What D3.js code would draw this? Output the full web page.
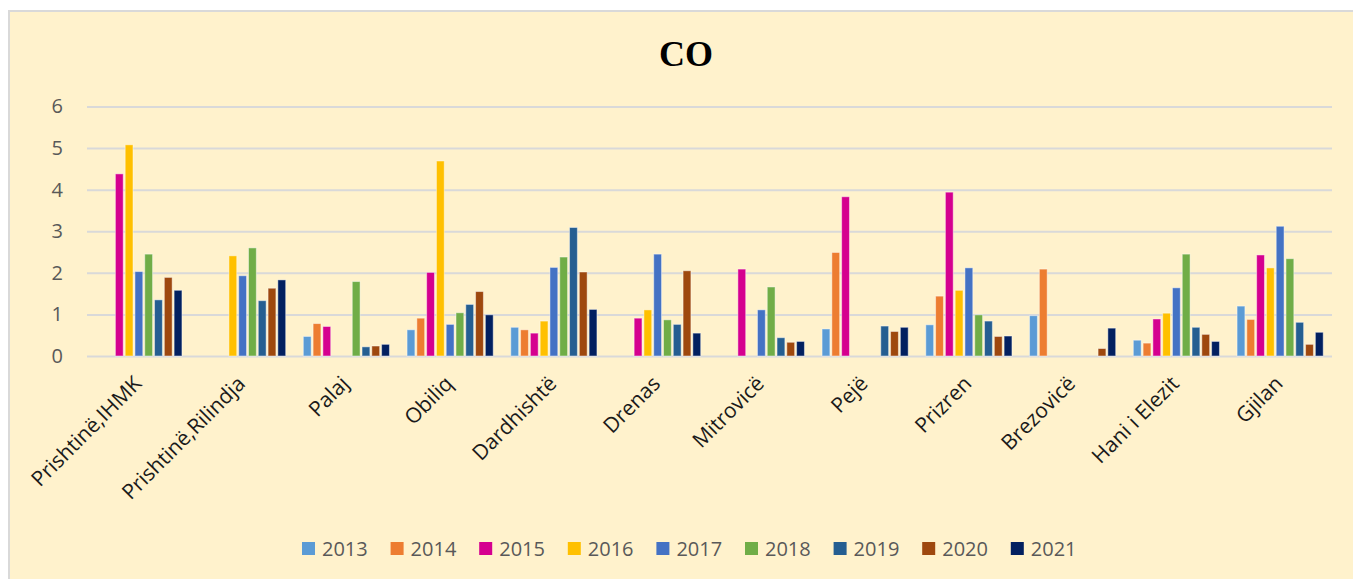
<!DOCTYPE html>
<html>
<head>
<meta charset="utf-8">
<script src="https://cdn.jsdelivr.net/npm/d3@7"></script>
<style>
  body { margin: 0; background: #fff; }
  svg { display: block; }
</style>
</head>
<body>
<svg id="canvas" width="1353" height="579"></svg>
<script>
// stations on the x axis
let stations = ["Prishtinë,IHMK", "Prishtinë,Rilindja", "Palaj", "Obiliq", "Dardhishtë", "Drenas",
  "Mitrovicë", "Pejë", "Prizren", "Brezovicë", "Hani i Elezit", "Gjilan"]
let years = ["2013", "2014", "2015", "2016", "2017", "2018", "2019", "2020", "2021"]
let yearColors = ["#5B9BD5", "#ED7D31", "#D5008F", "#FFC000", "#4472C4", "#70AD47", "#255E91", "#9E480E", "#022060"]
let yTicks = [0, 1, 2, 3, 4, 5, 6]

// one array per year, one value per station (null = no bar)
let v2013 = [null, null, 0.47, 0.63, 0.69, null, null, 0.65, 0.75, 0.97, 0.38, 1.20]
let v2014 = [null, null, 0.78, 0.91, 0.63, null, null, 2.49, 1.44, 2.09, 0.31, 0.88]
let v2015 = [4.38, null, 0.71, 2.01, 0.55, 0.91, 2.09, 3.83, 3.94, null, 0.89, 2.43]
let v2016 = [5.08, 2.41, null, 4.69, 0.84, 1.11, null, null, 1.58, null, 1.03, 2.12]
let v2017 = [2.03, 1.93, null, 0.76, 2.13, 2.45, 1.11, null, 2.12, null, 1.64, 3.12]
let v2018 = [2.45, 2.60, 1.79, 1.04, 2.38, 0.87, 1.66, null, 0.99, null, 2.45, 2.34]
let v2019 = [1.35, 1.33, 0.22, 1.24, 3.09, 0.76, 0.44, 0.72, 0.84, null, 0.69, 0.81]
let v2020 = [1.89, 1.63, 0.24, 1.55, 2.02, 2.05, 0.33, 0.59, 0.47, 0.18, 0.52, 0.28]
let v2021 = [1.58, 1.83, 0.28, 0.99, 1.12, 0.55, 0.35, 0.69, 0.48, 0.67, 0.35, 0.57]
let series = [v2013, v2014, v2015, v2016, v2017, v2018, v2019, v2020, v2021]

let canvas = d3.select("#canvas")

// chart area background
canvas.append('rect')
  .attr('x', 9).attr('y', 11)
  .attr('width', 1360).attr('height', 580)
  .attr('fill', '#FFF2CC')
  .attr('stroke', '#D9D9D9')
  .attr('stroke-width', 2)

let plotLeft = 87, plotRight = 1332, plotTop = 106.5, plotBottom = 356

let x0 = d3.scaleBand().domain(stations).range([plotLeft, plotRight])
let x1 = d3.scaleBand().domain(years).range([0, x0.bandwidth()]).paddingInner(0.2).paddingOuter(0.9)
let y = d3.scaleLinear().domain([0, 6]).range([plotBottom, plotTop])
let color = d3.scaleOrdinal().domain(years).range(yearColors)

// gridlines + y labels
let yAxis = d3.axisLeft(y).tickValues(yTicks).tickFormat(d3.format('d'))
  .tickSize(-(plotRight - plotLeft)).tickPadding(24)
let yg = canvas.append('g').attr('transform', `translate(${plotLeft},0)`).call(yAxis)
yg.select('.domain').remove()
yg.selectAll('.tick line').attr('stroke', '#D9D9D9').attr('stroke-width', 2)
yg.selectAll('.tick text')
  .attr('fill', '#595959')
  .style('font-family', '"Open Sans", sans-serif')
  .style('font-size', '20px')

// bars
let rows = []
series.forEach((vals, i) => {
  vals.forEach((v, j) => {
    if (v !== null) rows.push({ year: years[i], station: stations[j], value: v })
  })
})

canvas.append('g').selectAll('rect')
  .data(rows)
  .enter()
  .append('rect')
  .attr('x', (d) => x0(d.station) + x1(d.year))
  .attr('y', (d) => y(d.value))
  .attr('width', x1.bandwidth())
  .attr('height', (d) => y(0) - y(d.value))
  .attr('fill', (d) => color(d.year))
  .attr('stroke', 'rgba(255,255,255,0.45)')
  .attr('stroke-width', 1)

// category labels
let xAxis = d3.axisBottom(x0).tickSize(0).tickPadding(0)
let xg = canvas.append('g').attr('transform', `translate(0,${plotBottom})`).call(xAxis)
xg.select('.domain').remove()
xg.selectAll('.tick text')
  .attr('text-anchor', 'end')
  .attr('fill', '#1a1a1a')
  .attr('dy', 0)
  .attr('transform', 'translate(4,29) rotate(-45)')
  .style('font-family', '"Open Sans", sans-serif')
  .style('font-size', '21px')

// title
canvas.append('text')
  .attr('x', 686).attr('y', 66)
  .attr('text-anchor', 'middle')
  .style('font-family', '"Liberation Serif", serif')
  .style('font-weight', 'bold')
  .style('font-size', '36px')
  .attr('fill', '#000')
  .text('CO')

// legend
let legend = canvas.append('g').selectAll('g')
  .data(years)
  .enter()
  .append('g')
  .attr('transform', (d, i) => `translate(${302 + i * 88.6},542)`)

legend.append('rect')
  .attr('width', 13).attr('height', 13)
  .attr('fill', (d) => color(d))

legend.append('text')
  .attr('x', 20).attr('y', 14)
  .attr('fill', '#595959')
  .style('font-family', '"Open Sans", sans-serif')
  .style('font-size', '20px')
  .text((d) => d)
</script>
</body>
</html>
